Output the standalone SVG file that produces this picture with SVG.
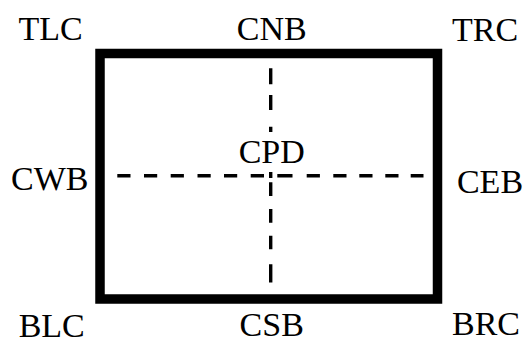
<svg xmlns="http://www.w3.org/2000/svg" width="528" height="343" viewBox="0 0 528 343">
<style>
.lbl{font-family:'Liberation Serif','Times New Roman',Times,serif;font-size:34px;fill:#000;text-anchor:middle}
.frame{fill:none;stroke:#000;stroke-width:9.5}
.dash{fill:none;stroke:#000;stroke-width:3.4}
</style>
<rect width="528" height="343" fill="#fff"/>
<rect class="frame" x="100" y="53.5" width="337.5" height="245.5"/>
<g id="axes">
<path class="dash" d="M117.3 175.7H130.5M144 175.7H157.2M170.7 175.7H183.9M197.5 175.7H210.7M224 175.7H237.2M250.7 175.7H264M277.3 175.7H292.5M306.7 175.7H319.9M333.3 175.7H346.5M359.3 175.7H372.5M385.3 175.7H398.5M410.7 175.7H423.5"/>
<path class="dash" d="M270.7 68.3V84.3M270.7 95V110M270.7 126.7V132M270.7 172V178M270.7 182.3V196M270.7 209V222.7M270.7 235.7V249.3M270.7 264.3V282.5"/>
</g>
<g class="lbl" font-family="Liberation Serif, serif">
<g id="TLC"><text x="50.5" y="40">TLC</text></g>
<g id="CNB"><text x="271.7" y="40">CNB</text></g>
<g id="TRC"><text x="485" y="41">TRC</text></g>
<g id="CWB"><text x="49.7" y="190">CWB</text></g>
<g id="CPD"><text x="271.7" y="163">CPD</text></g>
<g id="CEB"><text x="490" y="193">CEB</text></g>
<g id="BLC"><text x="51.7" y="337">BLC</text></g>
<g id="CSB"><text x="271.7" y="336">CSB</text></g>
<g id="BRC"><text x="486" y="335">BRC</text></g>
</g>
</svg>
